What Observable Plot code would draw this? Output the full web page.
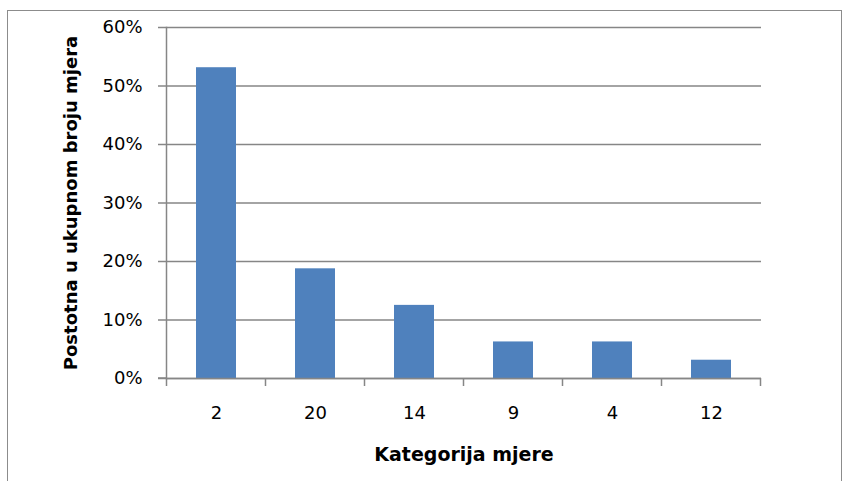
<!DOCTYPE html>
<html><head><meta charset="utf-8">
<script src="https://cdn.jsdelivr.net/npm/d3@7"></script>
<script src="https://cdn.jsdelivr.net/npm/@observablehq/plot@0.6"></script>
<style>
body{margin:0;background:#fff;}
#wrap{position:relative;width:843px;height:481px;overflow:hidden;}
#border{position:absolute;left:7px;top:10px;width:833px;height:480px;border:1.5px solid #8c8c8c;border-bottom:none;}
#chart{position:absolute;left:0;top:0;}
</style></head>
<body><div id="wrap"><div id="border"></div><div id="chart"></div></div>
<script>
const categories = ["2","20","14","9","4","12"];
const shares = [0.53125, 0.1875, 0.125, 0.0625, 0.0625, 0.03125];
const yTicks = [0, 0.1, 0.2, 0.3, 0.4, 0.5, 0.6];
const xTitle = "Kategorija mjere";
const yTitle = "Postotna u ukupnom broju mjera";
const data = categories.map((c, i) => ({cat: c, v: shares[i]}));
const gray = "#868686";
const chart = Plot.plot({
  width: 843, height: 481,
  marginLeft: 166, marginRight: 82, marginTop: 27, marginBottom: 103,
  style: {fontFamily: "DejaVu Sans", color: "#000", background: "transparent"},
  x: {domain: categories, paddingInner: 0.6, paddingOuter: 0.3, label: null},
  y: {domain: [0, 0.6], label: null},
  marks: [
    Plot.gridY(yTicks, {stroke: gray, strokeOpacity: 1, strokeWidth: 1.5}),
    Plot.axisY(yTicks, {tickFormat: d => Math.round(d * 100) + "%", tickSize: 8, tickPadding: 16, fontSize: 18, stroke: gray, strokeWidth: 1.5, label: yTitle, labelAnchor: "center", labelOffset: 102, labelArrow: "none"}),
    Plot.axisX({tickSize: 0, tickPadding: 28, fontSize: 18, label: xTitle, labelAnchor: "center", labelOffset: 82, labelArrow: "none"}),
    Plot.barY(data, {x: "cat", y: "v", fill: "#4f81bd"}),
    Plot.ruleY([0], {stroke: gray, strokeWidth: 1.5}),
    Plot.frame({anchor: "left", stroke: gray, strokeWidth: 1.5})
  ]
});
// bold axis titles
d3.select(chart).selectAll("g[aria-label='y-axis label'] text").attr("font-weight", "bold").attr("font-size", 18);
d3.select(chart).selectAll("g[aria-label='x-axis label'] text").attr("font-weight", "bold").attr("font-size", 19);
// category boundary ticks
const xs = chart.scale("x");
const ys = chart.scale("y");
const y0 = ys.apply(0);
const off = (xs.step - xs.bandwidth) / 2;
const bounds = categories.map(c => xs.apply(c) - off).concat([xs.apply(categories[categories.length - 1]) + xs.bandwidth + off]);
d3.select(chart).append("g").selectAll("line").data(bounds).join("line")
  .attr("x1", d => d).attr("x2", d => d).attr("y1", y0).attr("y2", y0 + 8)
  .attr("stroke", gray).attr("stroke-width", 1.5);
d3.select(chart).append("line").attr("x1", xs.range[0] - 8).attr("x2", xs.range[0]).attr("y1", y0).attr("y2", y0).attr("stroke", gray).attr("stroke-width", 1.5);
document.getElementById("chart").appendChild(chart);
</script></body></html>
